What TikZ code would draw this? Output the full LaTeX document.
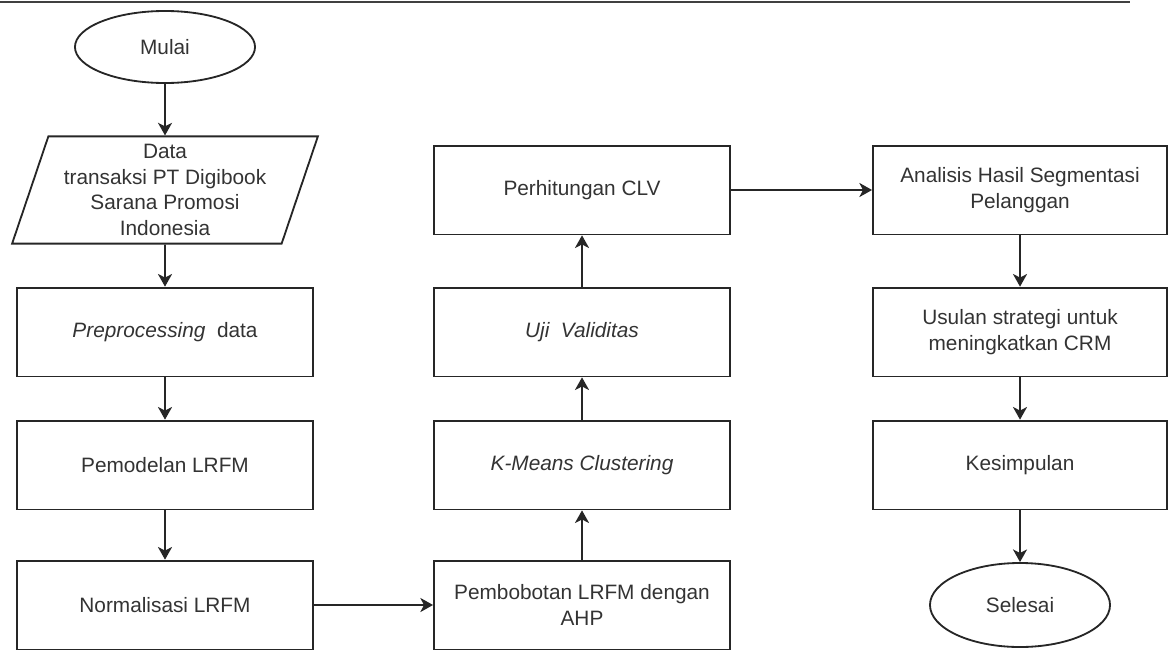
\documentclass[tikz,border=0pt]{standalone}
\usepackage{fontspec}
\setmainfont{Liberation Sans}
\usetikzlibrary{shapes.geometric,arrows.meta}
\definecolor{teks}{HTML}{333333}
\tikzset{
  dasar/.style={draw=black!85, line width=1.3pt, text=teks, align=center,
    font=\fontsize{14.8}{18.2}\selectfont},
  kotak/.style={dasar, rectangle, minimum width=7.4cm, minimum height=2.22cm},
  terminal/.style={dasar, ellipse, minimum width=4.5cm, inner sep=0pt},
  masukan/.style={dasar, trapezium, trapezium left angle=71, trapezium right angle=109,
    trapezium stretches=true, minimum width=7.65cm, minimum height=2.68cm, inner sep=0pt},
  panah/.style={draw=black!85, line width=1.3pt, -{Stealth[length=9pt,width=10pt,inset=2.5pt]}}
}
\begin{document}
\begin{tikzpicture}[x=0.025cm, y=-0.025cm]
\useasboundingbox (0,0) rectangle (1168,651);
% Garis atas
\draw[line width=2pt, black!75] (0,2) -- (1130,2);
% Kolom kiri
\node[terminal, minimum height=1.8cm] (mulai) at (165,47) {Mulai};
\node[masukan] (data) at (165,190) {Data\\transaksi PT Digibook\\Sarana Promosi\\Indonesia};
\node[kotak] (prep) at (165,332) {\textit{Preprocessing}\ \ data};
\node[kotak] (model) at (165,465) {Pemodelan LRFM};
\node[kotak] (norm) at (165,605) {Normalisasi LRFM};
% Kolom tengah
\node[kotak] (ahp) at (582,605) {Pembobotan LRFM dengan\\AHP};
\node[kotak] (kmeans) at (582,465) {\textit{K-Means Clustering}};
\node[kotak] (uji) at (582,332) {\textit{Uji\ \ Validitas}};
\node[kotak] (clv) at (582,190) {Perhitungan CLV};
% Kolom kanan
\node[kotak, minimum width=7.35cm] (analisis) at (1020,190) {Analisis Hasil Segmentasi\\Pelanggan};
\node[kotak, minimum width=7.35cm] (usulan) at (1020,332) {Usulan strategi untuk\\meningkatkan CRM};
\node[kotak, minimum width=7.35cm] (simpul) at (1020,465) {Kesimpulan};
\node[terminal, minimum height=2.1cm] (selesai) at (1020,605) {Selesai};
% Panah
\draw[panah] (mulai) -- (data);
\draw[panah] (data) -- (prep);
\draw[panah] (prep) -- (model);
\draw[panah] (model) -- (norm);
\draw[panah] (norm) -- (ahp);
\draw[panah] (ahp) -- (kmeans);
\draw[panah] (kmeans) -- (uji);
\draw[panah] (uji) -- (clv);
\draw[panah] (clv) -- (analisis);
\draw[panah] (analisis) -- (usulan);
\draw[panah] (usulan) -- (simpul);
\draw[panah] (simpul) -- (selesai);
\end{tikzpicture}
\end{document}
